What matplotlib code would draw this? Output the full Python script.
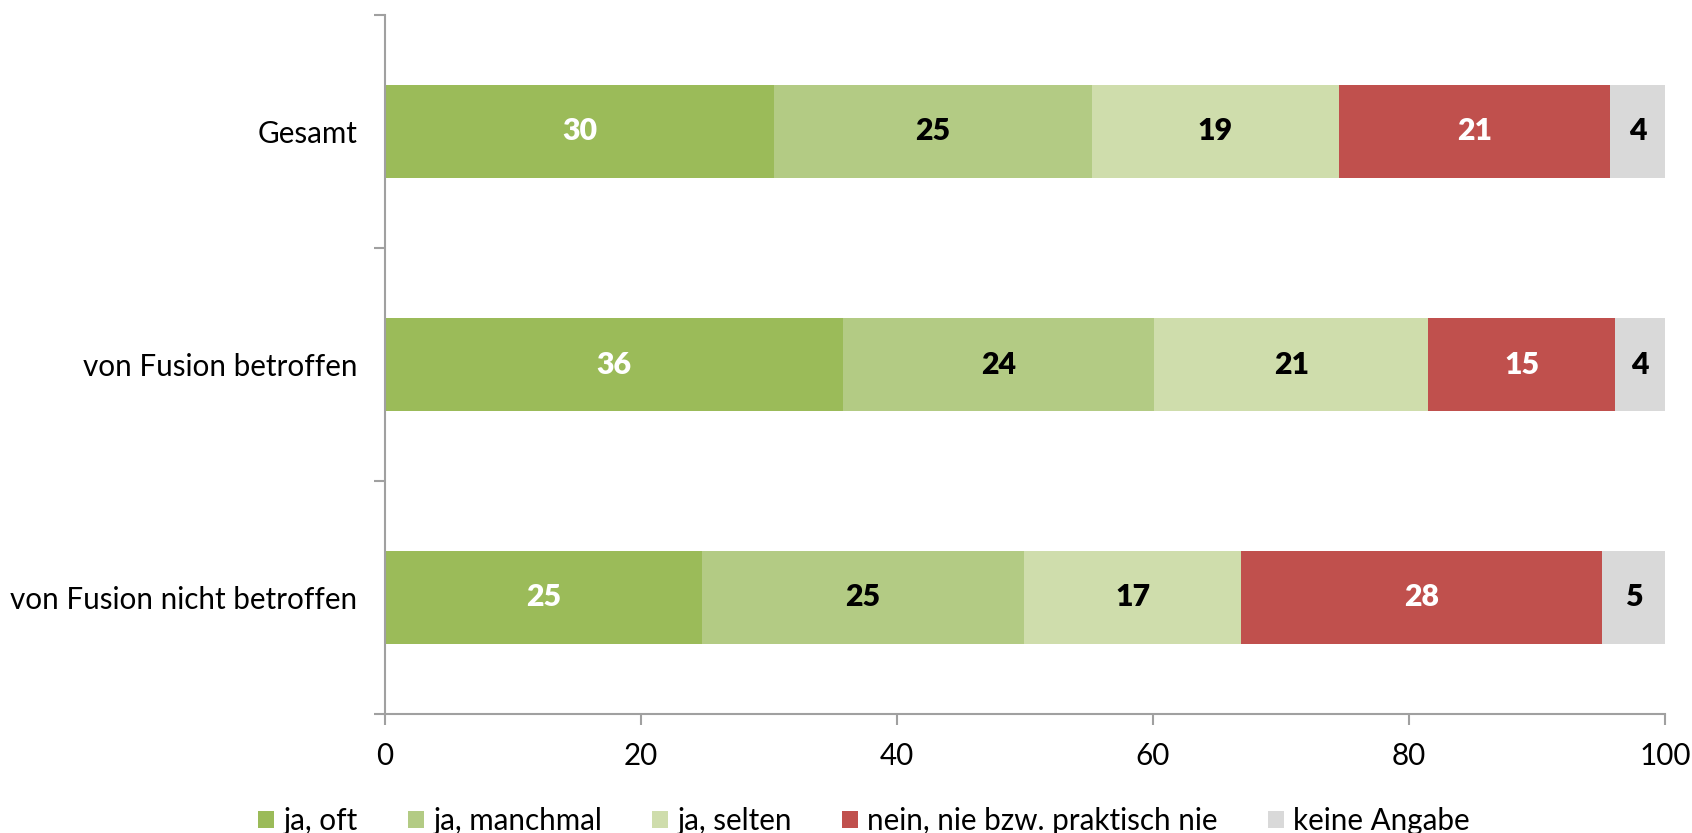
import matplotlib
matplotlib.use("Agg")
import matplotlib.pyplot as plt
import numpy as np

categories = ["Gesamt", "von Fusion betroffen", "von Fusion nicht betroffen"]
series_names = ["ja, oft", "ja, manchmal", "ja, selten", "nein, nie bzw. praktisch nie", "keine Angabe"]
ja_oft = [30.4, 35.8, 24.8]
ja_manchmal = [24.8, 24.3, 25.1]
ja_selten = [19.3, 21.4, 17.0]
nein = [21.2, 14.6, 28.2]
keine = [4.3, 3.9, 4.9]
colors = ["#9BBB59", "#B3CB84", "#CFDDAC", "#C0504D", "#D9D9D9"]
label_colors = ["white", "black", "black", "white", "black"]
xticks = [0, 20, 40, 60, 80, 100]

plt.rcParams['font.family'] = ['Lato', 'DejaVu Sans']
FS = 21.3

fig = plt.figure(figsize=(16.92, 8.33), dpi=100)
ax = fig.add_axes([385/1692, 1-714/833, (1665-385)/1692, (714-15)/833])

data = [ja_oft, ja_manchmal, ja_selten, nein, keine]
y = np.arange(len(categories))
left = np.zeros(len(categories))
for vals, name, col, lc in zip(data, series_names, colors, label_colors):
    vals = np.array(vals)
    ax.barh(y, vals, left=left, height=0.4, color=col, label=name, edgecolor='none')
    for yi, (l, v) in enumerate(zip(left, vals)):
        ax.text(l + v/2, yi, f"{v:.0f}", ha='center', va='center', color=lc,
                fontsize=FS + 0.5, fontweight='heavy')
    left = left + vals

ax.set_xlim(0, 100)
ax.set_ylim(2.5, -0.5)
ax.set_xticks(xticks)
ax.set_xticklabels([str(t) for t in xticks], fontsize=FS)
ax.set_yticks(y)
ax.set_yticklabels(categories, fontsize=FS)
ax.set_yticks([-0.5, 0.5, 1.5, 2.5], minor=True)
ax.tick_params(axis='y', which='major', length=0, pad=20)
ax.tick_params(axis='y', which='minor', length=8, color='#A0A0A0', width=1.5, direction='out')
ax.tick_params(axis='x', which='major', length=8, color='#A0A0A0', width=1.5, direction='out', pad=12)
for s in ['top', 'right']:
    ax.spines[s].set_visible(False)
for s in ['left', 'bottom']:
    ax.spines[s].set_color('#A0A0A0')
    ax.spines[s].set_linewidth(1.5)

fig.legend(loc='center', bbox_to_anchor=(864/1692, 1-821/833), ncol=5, frameon=False,
           fontsize=FS, handlelength=0.55, handleheight=0.55, handletextpad=0.3,
           columnspacing=1.7)

fig.savefig("out.png", dpi=100)
